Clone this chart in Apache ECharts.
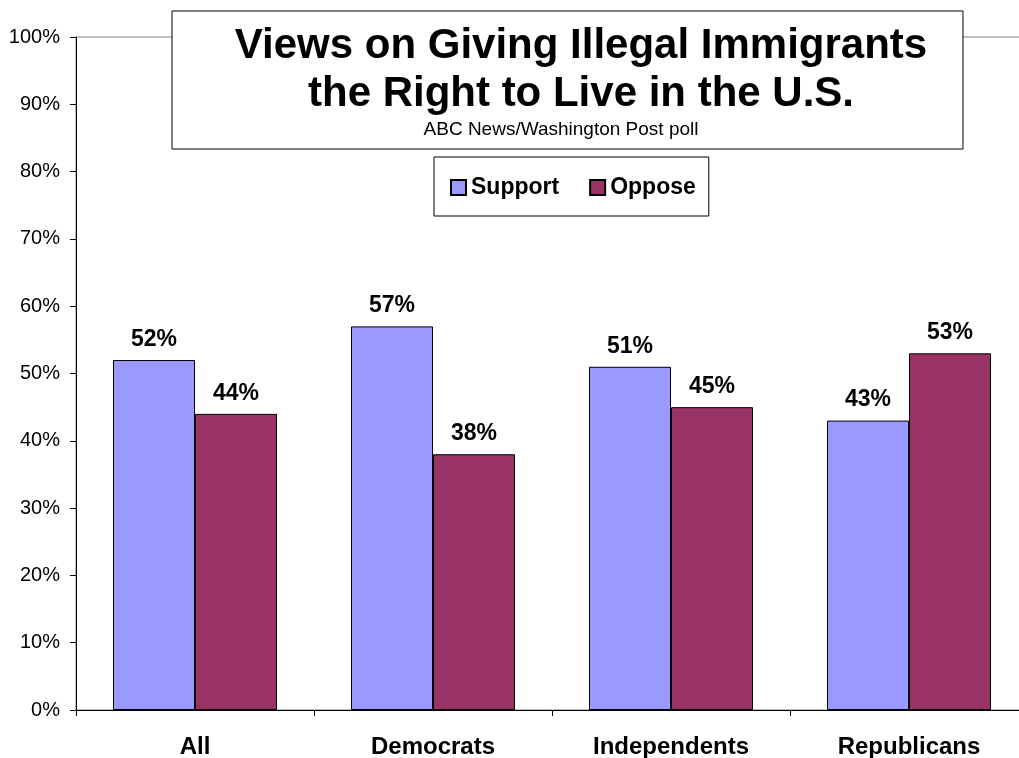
<!DOCTYPE html>
<html>
<head>
<meta charset="utf-8">
<script src="https://cdn.jsdelivr.net/npm/echarts@6/dist/echarts.min.js"></script>
<style>html,body{margin:0;padding:0;background:#fff;}#c{width:1019px;height:758px;}</style>
</head>
<body>
<div id="c"></div>
<script>
var categories = ['All', 'Democrats', 'Independents', 'Republicans'];
var supportValues = [52, 57, 51, 43];
var opposeValues = [44, 38, 45, 53];
var yTicks = [0, 10, 20, 30, 40, 50, 60, 70, 80, 90, 100];
var titleLines = ['Views on Giving Illegal Immigrants', 'the Right to Live in the U.S.'];
var subtitleText = 'ABC News/Washington Post poll';

var FONT = 'Liberation Sans, Arial, sans-serif';
var chart = echarts.init(document.getElementById('c'), null, {renderer: 'canvas'});
var labelStyle = {
  show: true, position: 'top', distance: 9,
  formatter: '{c}%', fontFamily: FONT, fontWeight: 'bold', fontSize: 23, color: '#000'
};
chart.setOption({
  animation: false,
  backgroundColor: '#fff',
  graphic: [{
    type: 'rect', z: 10,
    shape: {x: 172, y: 11, width: 791, height: 138},
    style: {fill: '#fff', stroke: '#000', lineWidth: 1}
  }],
  title: [{
    z: 20,
    left: 581, top: 22, textAlign: 'center', padding: 0,
    text: titleLines.join('\n'),
    textStyle: {fontFamily: FONT, fontWeight: 'bold', fontSize: 42, lineHeight: 48, color: '#000'}
  }, {
    z: 20,
    left: 561, top: 120, textAlign: 'center', padding: 0,
    text: subtitleText,
    textStyle: {fontFamily: FONT, fontWeight: 'normal', fontSize: 19, lineHeight: 20, color: '#000'}
  }],
  legend: {
    z: 20,
    left: 434, top: 157,
    padding: [19, 13, 17, 16],
    borderColor: '#000', borderWidth: 1, backgroundColor: '#fff',
    itemWidth: 15, itemHeight: 15, itemGap: 30,
    icon: 'rect',
    textStyle: {fontFamily: FONT, fontWeight: 'bold', fontSize: 23, color: '#000'},
    data: ['Support', 'Oppose']
  },
  grid: {
    left: 76, width: 952, top: 37, bottom: 48,
    outerBoundsMode: 'none', containLabel: false,
    show: true, borderColor: '#808080', borderWidth: 1, backgroundColor: 'transparent'
  },
  xAxis: {
    type: 'category',
    data: categories,
    axisLine: {lineStyle: {color: '#000', width: 1}},
    axisTick: {show: true, length: 6, alignWithLabel: false, lineStyle: {color: '#000'}},
    axisLabel: {margin: 25, fontFamily: FONT, fontWeight: 'bold', fontSize: 24, color: '#000'},
    splitLine: {show: false}
  },
  yAxis: {
    type: 'value',
    min: yTicks[0], max: yTicks[yTicks.length - 1], interval: yTicks[1] - yTicks[0],
    axisLine: {show: true, lineStyle: {color: '#000', width: 1}},
    axisTick: {show: true, length: 6, lineStyle: {color: '#000'}},
    axisLabel: {margin: 16, formatter: '{value}%', fontFamily: FONT, fontSize: 20, color: '#000'},
    splitLine: {show: false}
  },
  series: [{
    name: 'Support', type: 'bar', data: supportValues,
    barWidth: 82, barGap: '0%',
    itemStyle: {color: '#9999FF', borderColor: '#000', borderWidth: 1},
    label: labelStyle
  }, {
    name: 'Oppose', type: 'bar', data: opposeValues,
    barWidth: 82, barGap: '0%',
    itemStyle: {color: '#993366', borderColor: '#000', borderWidth: 1},
    label: labelStyle
  }]
});
</script>
</body>
</html>
